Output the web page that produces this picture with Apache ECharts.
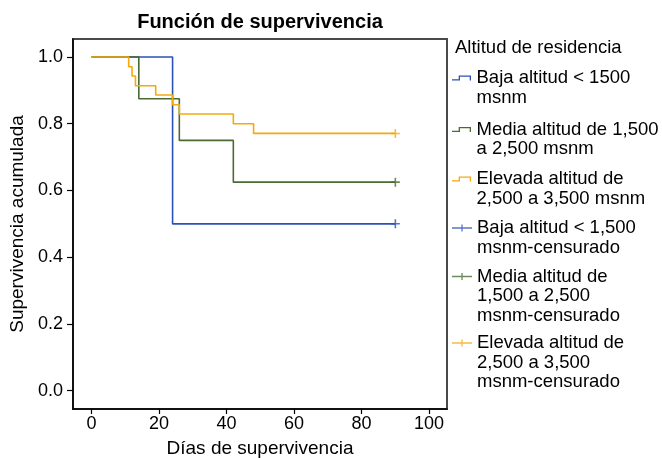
<!DOCTYPE html>
<html>
<head>
<meta charset="utf-8">
<script src="https://cdn.jsdelivr.net/npm/echarts@6/dist/echarts.min.js"></script>
<style>
  html, body { margin: 0; padding: 0; background: #fff; }
  #chart { width: 662px; height: 458px; }
</style>
</head>
<body>
<div id="chart"></div>
<script>
// Kaplan-Meier survival by altitude of residence
const groupNames = [
  'Baja altitud < 1500\nmsnm',
  'Media altitud de 1,500\na 2,500 msnm',
  'Elevada altitud de\n2,500 a 3,500 msnm'
];
const censoredNames = [
  'Baja altitud < 1,500\nmsnm-censurado',
  'Media altitud de\n1,500 a 2,500\nmsnm-censurado',
  'Elevada altitud de\n2,500 a 3,500\nmsnm-censurado'
];

// event times (days) and cumulative survival after each event
const bajaDays = [0, 24, 90];
const bajaSurv = [1.0, 0.5, 0.5];
const mediaDays = [0, 14, 26, 42, 90];
const mediaSurv = [1.0, 0.875, 0.75, 0.625, 0.625];
const elevadaDays = [0, 11, 12, 13, 19, 24, 26, 42, 48, 90];
const elevadaSurv = [1.0, 0.971, 0.943, 0.914, 0.886, 0.857, 0.829, 0.800, 0.771, 0.771];

// censored observations
const bajaCensDays = [90];
const bajaCensSurv = [0.5];
const mediaCensDays = [90];
const mediaCensSurv = [0.625];
const elevadaCensDays = [90];
const elevadaCensSurv = [0.771];

const xTicks = [0, 20, 40, 60, 80, 100];
const yTicks = [0.0, 0.2, 0.4, 0.6, 0.8, 1.0];

const colors = ['#2b51b6', '#4a6b31', '#f6a90f'];
const FONT = "'Liberation Sans', Arial, Helvetica, sans-serif";

const pairs = (xs, ys) => xs.map((x, i) => [x, ys[i]]);

const stepIcon = 'path://M0,3.7H6.7V0H19V5H17.7V1.3H8V5H0Z';
const plusIcon = 'path://M0,2.85H9.35V0H10.65V2.85H20V4.15H10.65V7H9.35V4.15H0Z';
const plusSymbol = 'path://M3.3,0H4.7V3.3H8V4.7H4.7V8H3.3V4.7H0V3.3H3.3Z';

const lineData = [pairs(bajaDays, bajaSurv), pairs(mediaDays, mediaSurv), pairs(elevadaDays, elevadaSurv)];
const censData = [pairs(bajaCensDays, bajaCensSurv), pairs(mediaCensDays, mediaCensSurv), pairs(elevadaCensDays, elevadaCensSurv)];

const series = [];
for (let i = 0; i < 3; i++) {
  series.push({
    type: 'line',
    name: groupNames[i],
    step: 'end',
    data: lineData[i],
    showSymbol: false,
    symbol: 'none',
    lineStyle: { color: colors[i], width: 1.6 },
    itemStyle: { color: colors[i] },
    z: 2 + i,
    animation: false
  });
}
for (let i = 0; i < 3; i++) {
  series.push({
    type: 'scatter',
    name: censoredNames[i],
    data: censData[i],
    symbol: plusSymbol,
    symbolSize: [9, 9],
    itemStyle: { color: colors[i] },
    z: 6,
    animation: false
  });
}

// one legend block per entry; blank lines above the label keep the icon
// level with the first text line
const LH = 19.5;
const legendCenters = [78, 129.5, 179, 228, 276.5, 343];
const legendEntries = [
  { name: groupNames[0], icon: stepIcon, lines: 2 },
  { name: groupNames[1], icon: stepIcon, lines: 2 },
  { name: groupNames[2], icon: stepIcon, lines: 2 },
  { name: censoredNames[0], icon: plusIcon, lines: 2 },
  { name: censoredNames[1], icon: plusIcon, lines: 3 },
  { name: censoredNames[2], icon: plusIcon, lines: 3 }
];
const legends = legendEntries.map((e, i) => ({
  orient: 'vertical',
  left: 452,
  top: legendCenters[i] - (2 * e.lines - 1) * LH / 2,
  padding: 0,
  itemWidth: 20,
  itemHeight: e.icon === stepIcon ? 5 : 7,
  selectedMode: false,
  itemStyle: { borderWidth: 0 },
  textStyle: { fontFamily: FONT, fontSize: 18.5, color: '#000', lineHeight: LH },
  formatter: name => '\n'.repeat(e.lines - 1) + name,
  data: [{ name: e.name, icon: e.icon }]
}));

const chart = echarts.init(document.getElementById('chart'), null, { renderer: 'canvas' });
chart.setOption({
  animation: false,
  backgroundColor: '#fff',
  grid: {
    left: 73, right: 215, top: 39, bottom: 49,
    containLabel: false,
    outerBoundsMode: 'none',
    show: true, borderColor: '#4a4a4a', borderWidth: 2, backgroundColor: 'transparent'
  },
  graphic: [
    {
      type: 'text', x: 260, y: 22,
      style: { text: 'Función de supervivencia', font: 'bold 20px ' + FONT, fill: '#000', align: 'center', verticalAlign: 'middle' }
    },
    {
      type: 'text', x: 455, y: 48,
      style: { text: 'Altitud de residencia', font: '18.5px ' + FONT, fill: '#000', align: 'left', verticalAlign: 'middle' }
    }
  ],
  legend: legends,
  xAxis: {
    type: 'value',
    min: -5.5, max: 105.3,
    name: 'Días de supervivencia',
    nameLocation: 'middle',
    nameGap: 30,
    nameTextStyle: { fontFamily: FONT, fontSize: 19, color: '#000' },
    axisLine: { show: true, onZero: false, lineStyle: { color: '#000', width: 1.5 } },
    axisTick: { show: true, length: 5, lineStyle: { color: '#000', width: 1.2 }, customValues: xTicks },
    axisLabel: { fontFamily: FONT, fontSize: 18, color: '#000', margin: 6, customValues: xTicks },
    splitLine: { show: false }
  },
  yAxis: {
    type: 'value',
    min: -0.055, max: 1.054,
    name: 'Supervivencia acumulada',
    nameLocation: 'middle',
    nameGap: 45,
    nameTextStyle: { fontFamily: FONT, fontSize: 19, color: '#000' },
    axisLine: { show: true, onZero: false, lineStyle: { color: '#000', width: 1.5 } },
    axisTick: { show: true, length: 6, lineStyle: { color: '#000', width: 1.2 }, customValues: yTicks },
    axisLabel: {
      fontFamily: FONT, fontSize: 18, color: '#000', margin: 10,
      customValues: yTicks,
      formatter: v => v.toFixed(1)
    },
    splitLine: { show: false }
  },
  series: series
});
</script>
</body>
</html>
